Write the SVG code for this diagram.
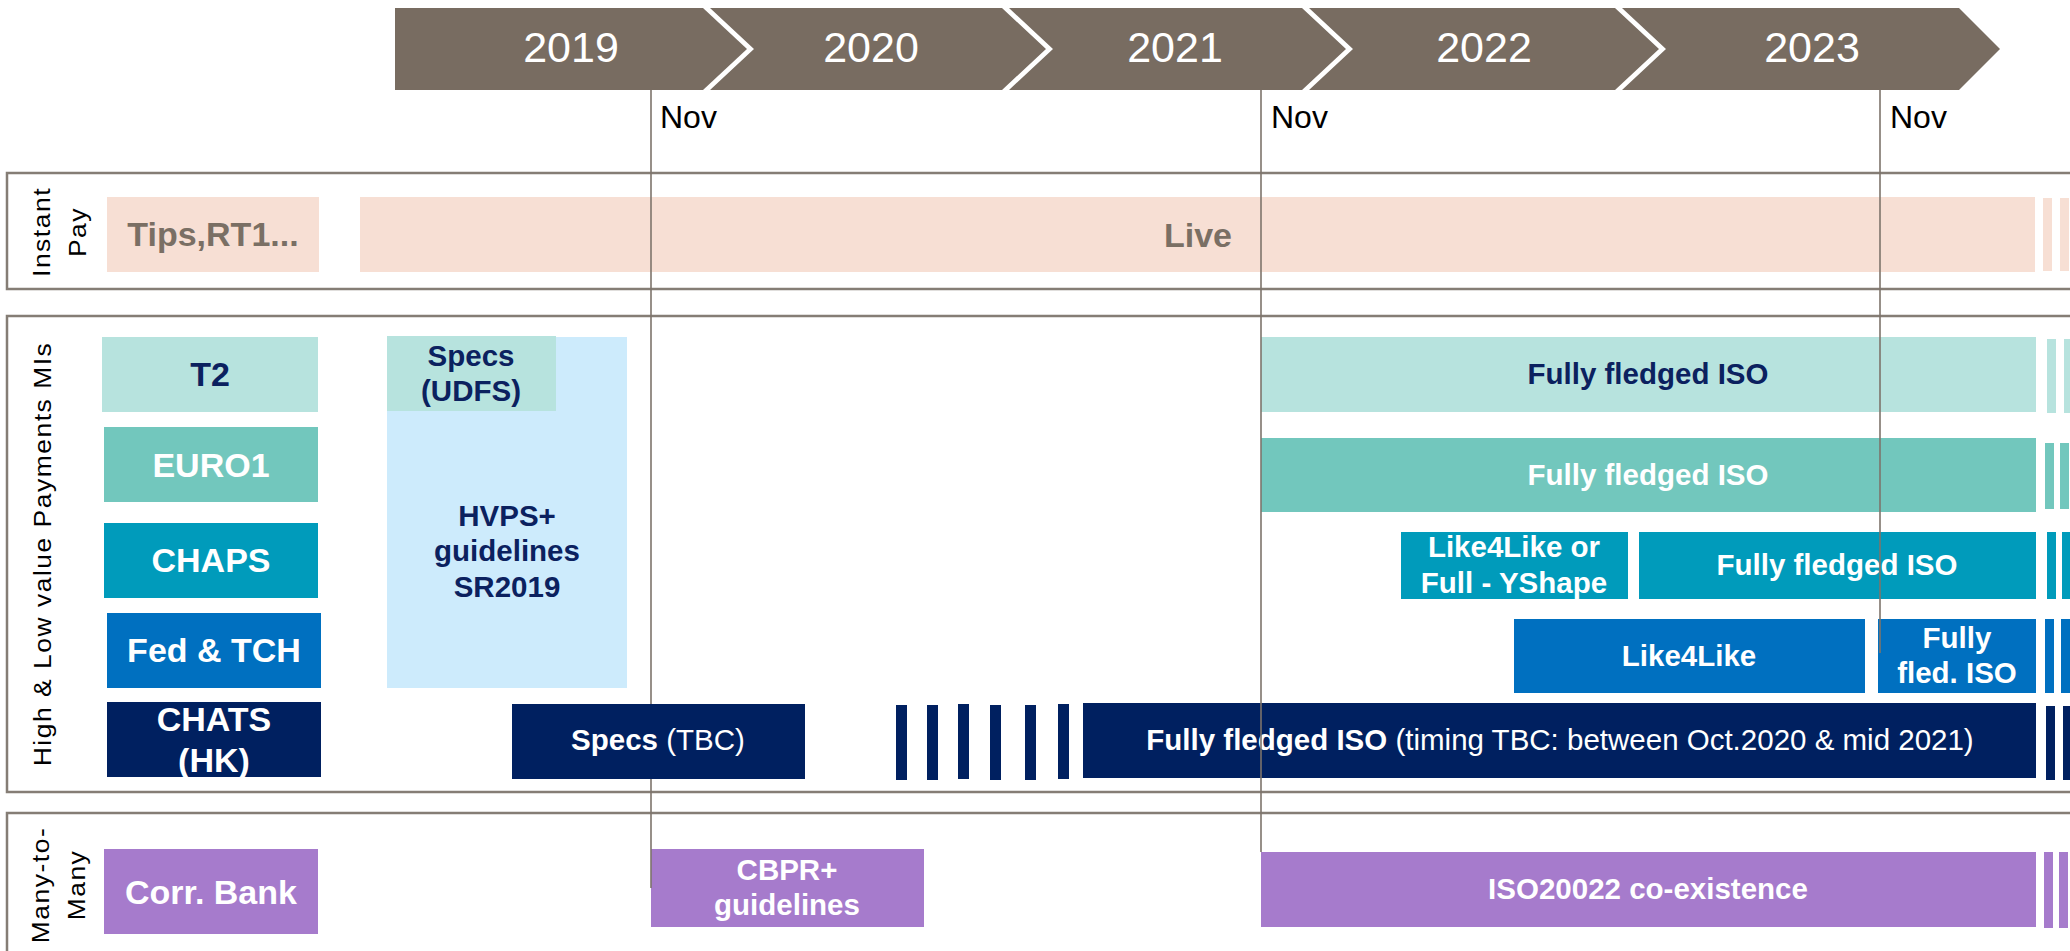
<svg xmlns="http://www.w3.org/2000/svg" width="2070" height="951" viewBox="0 0 2070 951">
<style>
text{font-family:"Liberation Sans",Arial,sans-serif;}
.yr{fill:#fff;font-size:43px;text-anchor:middle;}
.nov{fill:#000;font-size:32px;}
.sec{fill:none;stroke:#857d75;stroke-width:2.5;}
.vl{font-size:24px;fill:#000;text-anchor:middle;letter-spacing:1.4px;}
.lb{font-size:34px;font-weight:bold;text-anchor:middle;}
.bl{font-size:29.5px;font-weight:bold;text-anchor:middle;}
.w{fill:#fff;}
.n{fill:#0b215f;}
.g{fill:#7a6f64;}
.nr{font-weight:normal;}
.pink{fill:#f7dfd4;}
.t2{fill:#b7e3de;}
.eu{fill:#72c7bd;}
.ch{fill:#009bbb;}
.fd{fill:#0070c0;}
.hk{fill:#002060;}
.lbl{fill:#cdebfc;}
.pu{fill:#a67bcc;}
.ban{fill:#786c61;}
.nl{stroke:#7d746b;stroke-width:1.6;fill:none;}
</style>

<g id="timeline">
<polygon class="ban" points="395,8 703,8 747,49 703,90 395,90"/>
<polygon class="ban" points="710,8 1002,8 1046,49 1002,90 710,90 754,49"/>
<polygon class="ban" points="1009,8 1302,8 1346,49 1302,90 1009,90 1053,49"/>
<polygon class="ban" points="1309,8 1615,8 1659,49 1615,90 1309,90 1353,49"/>
<polygon class="ban" points="1622,8 1959,8 2000,49 1959,90 1622,90 1666,49"/>
<text class="yr" x="571" y="62">2019</text>
<text class="yr" x="871" y="62">2020</text>
<text class="yr" x="1175" y="62">2021</text>
<text class="yr" x="1484" y="62">2022</text>
<text class="yr" x="1812" y="62">2023</text>
<text class="nov" x="660" y="128">Nov</text>
<text class="nov" x="1271" y="128">Nov</text>
<text class="nov" x="1890" y="128">Nov</text>
</g>

<g id="section-instant">
<rect class="sec" x="7" y="173" width="2100" height="116"/>
<text class="vl" transform="translate(50,232) rotate(-90) scale(1.1,1)">Instant</text>
<text class="vl" transform="translate(86,232) rotate(-90) scale(1.1,1)">Pay</text>
</g>
<g id="section-hl">
<rect class="sec" x="7" y="316" width="2100" height="476"/>
<text class="vl" transform="translate(51,554) rotate(-90) scale(1.1,1)">High &amp; Low value Payments MIs</text>
</g>
<g id="section-many">
<rect class="sec" x="7" y="813" width="2100" height="145"/>
<text class="vl" transform="translate(49,885) rotate(-90) scale(1.1,1)">Many-to-</text>
<text class="vl" transform="translate(85,885) rotate(-90) scale(1.1,1)">Many</text>
</g>

<g id="tips">
<rect class="pink" x="107" y="197" width="212" height="75"/>
<text class="lb g" x="213" y="246">Tips,RT1...</text>
</g>
<g id="live">
<rect class="pink" x="360" y="197" width="1675" height="75"/>
<rect class="pink" x="2043" y="198" width="9" height="73"/>
<rect class="pink" x="2060" y="198" width="9" height="73"/>
<text class="lb g" x="1198" y="247">Live</text>
</g>

<g id="t2">
<rect class="t2" x="102" y="337" width="216" height="75"/>
<text class="lb n" x="210" y="386">T2</text>
</g>
<g id="euro1">
<rect class="eu" x="104" y="427" width="214" height="75"/>
<text class="lb w" x="211" y="477">EURO1</text>
</g>
<g id="chaps">
<rect class="ch" x="104" y="523" width="214" height="75"/>
<text class="lb w" x="211" y="572">CHAPS</text>
</g>
<g id="fed">
<rect class="fd" x="107" y="613" width="214" height="75"/>
<text class="lb w" x="214" y="662">Fed &amp; TCH</text>
</g>
<g id="chats">
<rect class="hk" x="107" y="702" width="214" height="75"/>
<text class="lb w" x="214" y="731">CHATS</text>
<text class="lb w" x="214" y="772">(HK)</text>
</g>

<g id="hvps">
<rect class="lbl" x="387" y="337" width="240" height="351"/>
<text class="bl n" x="507" y="526">HVPS+</text>
<text class="bl n" x="507" y="561">guidelines</text>
<text class="bl n" x="507" y="597">SR2019</text>
</g>
<g id="specs-udfs">
<rect class="t2" x="387" y="336" width="169" height="75"/>
<text class="bl n" x="471" y="366">Specs</text>
<text class="bl n" x="471" y="401">(UDFS)</text>
</g>

<g id="t2-iso">
<rect class="t2" x="1261" y="337" width="775" height="75"/>
<rect class="t2" x="2047" y="339" width="9" height="74"/>
<rect class="t2" x="2064" y="339" width="9" height="74"/>
<text class="bl n" x="1648" y="384">Fully fledged ISO</text>
</g>
<g id="euro1-iso">
<rect class="eu" x="1261" y="438" width="775" height="74"/>
<rect class="eu" x="2045" y="443" width="9" height="66"/>
<rect class="eu" x="2060" y="443" width="9" height="66"/>
<text class="bl w" x="1648" y="485">Fully fledged ISO</text>
</g>
<g id="chaps-l4l">
<rect class="ch" x="1401" y="532" width="227" height="67"/>
<text class="bl w" x="1514" y="557">Like4Like or</text>
<text class="bl w" x="1514" y="593">Full - YShape</text>
</g>
<g id="chaps-iso">
<rect class="ch" x="1639" y="532" width="397" height="67"/>
<rect class="ch" x="2047" y="532" width="9" height="67"/>
<rect class="ch" x="2062" y="532" width="9" height="67"/>
<text class="bl w" x="1837" y="575">Fully fledged ISO</text>
</g>
<g id="fed-l4l">
<rect class="fd" x="1514" y="619" width="351" height="74"/>
<text class="bl w" x="1689" y="666">Like4Like</text>
</g>
<g id="fed-iso">
<rect class="fd" x="1878" y="619" width="158" height="74"/>
<rect class="fd" x="2045" y="619" width="9" height="74"/>
<rect class="fd" x="2061" y="619" width="9" height="74"/>
<text class="bl w" x="1957" y="648">Fully</text>
<text class="bl w" x="1957" y="683">fled. ISO</text>
</g>
<g id="chats-dash">
<rect class="hk" x="896" y="705" width="11" height="75"/>
<rect class="hk" x="927" y="705" width="11" height="75"/>
<rect class="hk" x="958" y="704" width="11" height="75"/>
<rect class="hk" x="990" y="705" width="11" height="75"/>
<rect class="hk" x="1025" y="705" width="11" height="75"/>
<rect class="hk" x="1058" y="704" width="11" height="75"/>
</g>
<g id="chats-iso">
<rect class="hk" x="1083" y="703" width="953" height="75"/>
<rect class="hk" x="2046" y="706" width="9" height="74"/>
<rect class="hk" x="2063" y="706" width="9" height="74"/>
<text class="bl w" x="1560" y="750">Fully fledged ISO<tspan class="nr"> (timing TBC: between Oct.2020 &amp; mid 2021)</tspan></text>
</g>

<g id="corr">
<rect class="pu" x="104" y="849" width="214" height="85"/>
<text class="lb w" x="211" y="904">Corr. Bank</text>
</g>
<g id="cbpr">
<rect class="pu" x="651" y="849" width="273" height="78"/>
<text class="bl w" x="787" y="880">CBPR+</text>
<text class="bl w" x="787" y="915">guidelines</text>
</g>
<g id="iso-coex">
<rect class="pu" x="1261" y="852" width="775" height="75"/>
<rect class="pu" x="2044" y="852" width="9" height="76"/>
<rect class="pu" x="2059" y="852" width="9" height="76"/>
<text class="bl w" x="1648" y="899">ISO20022 co-existence</text>
</g>

<g id="connectors">
<line class="nl" x1="651" y1="90" x2="651" y2="888"/>
<line class="nl" x1="1261" y1="90" x2="1261" y2="852"/>
<line class="nl" x1="1880" y1="90" x2="1880" y2="653"/>
</g>

<g id="specs-tbc">
<rect class="hk" x="512" y="704" width="293" height="75"/>
<text class="bl w" x="658" y="750">Specs<tspan class="nr"> (TBC)</tspan></text>
</g>
</svg>
